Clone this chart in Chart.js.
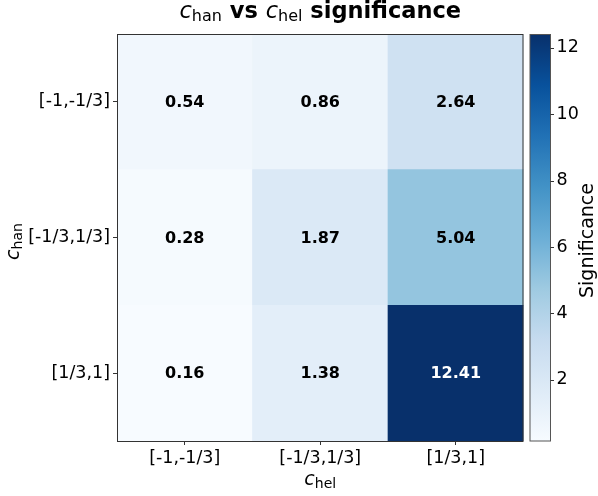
<!DOCTYPE html>
<html>
<head>
<meta charset="utf-8">
<script src="https://cdn.jsdelivr.net/npm/chart.js@4/dist/chart.umd.min.js"></script>
<style>
  html, body { margin: 0; padding: 0; background: #ffffff; }
  #wrap { width: 598px; height: 496px; }
</style>
</head>
<body>
<div id="wrap"><canvas id="heatmap"></canvas></div>
<script>
// c_hel bins along x; c_han bins along y, listed from the top row down
const helBins = ['[-1,-1/3]', '[-1/3,1/3]', '[1/3,1]'];
const hanBins = ['[-1,-1/3]', '[-1/3,1/3]', '[1/3,1]'];

// significance for each c_han row, one value per c_hel bin
const sigHanNeg = [0.54, 0.86, 2.64];
const sigHanMid = [0.28, 1.87, 5.04];
const sigHanPos = [0.16, 1.38, 12.41];

const colorbarTicks = [2, 4, 6, 8, 10, 12];

const FONT = '"DejaVu Sans", "Liberation Sans", sans-serif';

// rows from top to bottom
const rows = [sigHanNeg, sigHanMid, sigHanPos];
const allValues = rows.flat();
const vmin = Math.min(...allValues);
const vmax = Math.max(...allValues);

// "Blues" sequential palette
const BLUES = ['#f7fbff', '#deebf7', '#c6dbef', '#9ecae1', '#6baed6',
               '#4292c6', '#2171b5', '#08519c', '#08306b'];

function hexToRgb(h) {
  return [parseInt(h.slice(1, 3), 16), parseInt(h.slice(3, 5), 16), parseInt(h.slice(5, 7), 16)];
}
function blues(v) {
  let t = (v - vmin) / (vmax - vmin);
  t = Math.max(0, Math.min(1, t));
  const pos = t * (BLUES.length - 1);
  const i = Math.min(Math.floor(pos), BLUES.length - 2);
  const f = pos - i;
  const a = hexToRgb(BLUES[i]), b = hexToRgb(BLUES[i + 1]);
  const c = a.map((x, k) => Math.round(x + (b[k] - x) * f));
  return `rgb(${c[0]},${c[1]},${c[2]})`;
}

// one stacked dataset per c_han row, bottom row first
const datasets = rows.slice().reverse().map((sig, i) => ({
  label: hanBins[rows.length - 1 - i],
  sig: sig,
  data: helBins.map(() => 1),
  backgroundColor: sig.map(blues),
  borderWidth: 0,
  barPercentage: 1,
  categoryPercentage: 1
}));

// draws a sequence of text runs (mixed fonts / subscripts) centred on x
function drawRuns(ctx, runs, x, y) {
  let total = 0;
  runs.forEach(r => { ctx.font = r.font; r.w = ctx.measureText(r.text).width; total += r.w; });
  let cx = x - total / 2;
  ctx.textAlign = 'left';
  ctx.textBaseline = 'alphabetic';
  runs.forEach(r => {
    ctx.font = r.font;
    ctx.fillText(r.text, cx, y + (r.dy || 0));
    cx += r.w;
  });
}

const mathC = `italic 22.5px ${FONT}`;
const subF = `16px ${FONT}`;

const cellLabels = {
  id: 'cellLabels',
  afterDatasetsDraw(chart) {
    const ctx = chart.ctx;
    ctx.save();
    ctx.font = `bold 16px ${FONT}`;
    ctx.textAlign = 'center';
    ctx.textBaseline = 'middle';
    chart.data.datasets.forEach((ds, di) => {
      chart.getDatasetMeta(di).data.forEach((bar, j) => {
        const v = ds.sig[j];
        ctx.fillStyle = v > (vmin + vmax) / 2 ? '#ffffff' : '#000000';
        ctx.fillText(v.toFixed(2), bar.x, (bar.y + bar.base) / 2 + 1);
      });
    });
    ctx.restore();
  }
};

const frameAndColorbar = {
  id: 'frameAndColorbar',
  afterDraw(chart) {
    const ctx = chart.ctx;
    const a = chart.chartArea;
    ctx.save();

    // axes frame
    ctx.strokeStyle = '#333333';
    ctx.lineWidth = 1;
    ctx.strokeRect(a.left + 0.5, a.top + 0.5, a.right - a.left - 1, a.bottom - a.top);

    // colour bar
    const cb = chart.scales.cb;
    const x0 = a.right + 6.5, w = 20.5;
    const yLo = cb.getPixelForValue(vmin), yHi = cb.getPixelForValue(vmax);
    const g = ctx.createLinearGradient(0, yLo, 0, yHi);
    BLUES.forEach((c, i) => g.addColorStop(i / (BLUES.length - 1), c));
    ctx.fillStyle = g;
    ctx.fillRect(x0, yHi, w, yLo - yHi);
    ctx.strokeStyle = '#555555';
    ctx.strokeRect(x0, yHi + 0.5, w, yLo - yHi - 0.5);
    ctx.strokeStyle = '#333333';
    cb.ticks.forEach(t => {
      const y = Math.round(cb.getPixelForValue(t.value)) + 0.5;
      ctx.beginPath();
      ctx.moveTo(x0 + w, y);
      ctx.lineTo(x0 + w + 3.5, y);
      ctx.stroke();
    });

    ctx.fillStyle = '#000000';
    const midX = (a.left + a.right) / 2;
    const midY = (a.top + a.bottom) / 2;

    // title
    drawRuns(ctx, [
      { text: 'c', font: mathC },
      { text: 'han', font: subF, dy: 3 },
      { text: ' vs ', font: `bold 22.5px ${FONT}` },
      { text: 'c', font: mathC },
      { text: 'hel', font: subF, dy: 3 },
      { text: ' significance', font: `bold 22.5px ${FONT}` }
    ], midX, 18);

    // x-axis title
    drawRuns(ctx, [
      { text: 'c', font: `italic 19px ${FONT}` },
      { text: 'hel', font: `14px ${FONT}`, dy: 3 }
    ], midX, 485);

    // y-axis title
    ctx.save();
    ctx.translate(19, midY + 4);
    ctx.rotate(-Math.PI / 2);
    drawRuns(ctx, [
      { text: 'c', font: `italic 19px ${FONT}` },
      { text: 'han', font: `14px ${FONT}`, dy: 3 }
    ], 0, 0);
    ctx.restore();

    // colour bar label
    ctx.save();
    ctx.translate(593, midY + 3);
    ctx.rotate(-Math.PI / 2);
    drawRuns(ctx, [{ text: 'Significance', font: `19px ${FONT}` }], 0, 0);
    ctx.restore();

    ctx.restore();
  }
};

// vertical scales: fixed width, no extra end padding for tick labels
function fixVertical(width) {
  return s => { s.width = width; s.paddingTop = 0; s.paddingBottom = 0; };
}

new Chart(document.getElementById('heatmap'), {
  type: 'bar',
  data: { labels: helBins, datasets: datasets },
  options: {
    responsive: true,
    maintainAspectRatio: false,
    animation: false,
    events: [],
    layout: { padding: { top: 34, left: 0, right: 0, bottom: 0 } },
    plugins: { legend: { display: false }, tooltip: { enabled: false } },
    scales: {
      x: {
        stacked: true,
        offset: true,
        grid: { display: true, drawOnChartArea: false, offset: false, tickLength: 4, tickColor: '#333333' },
        border: { display: false },
        ticks: { color: '#000000', padding: 3, font: { family: FONT, size: 17.5 }, maxRotation: 0 },
        afterFit(s) { s.height = 55; s.paddingLeft = 0; s.paddingRight = 0; }
      },
      y: {
        stacked: true,
        min: 0,
        max: rows.length,
        grid: { display: true, drawOnChartArea: false, tickLength: 4, tickColor: '#333333' },
        border: { display: false },
        afterBuildTicks(s) { s.ticks = hanBins.map((_, i) => ({ value: i + 0.5 })); },
        ticks: {
          color: '#000000',
          padding: 3,
          font: { family: FONT, size: 17.5 },
          callback: v => hanBins[rows.length - 1 - Math.floor(v)]
        },
        afterFit: fixVertical(117)
      },
      cb: {
        type: 'linear',
        position: 'right',
        min: vmin,
        max: vmax,
        grid: { display: false, drawTicks: false },
        border: { display: false },
        afterBuildTicks(s) { s.ticks = colorbarTicks.map(v => ({ value: v })); },
        ticks: { color: '#000000', padding: 33, font: { family: FONT, size: 17.5 } },
        afterFit: fixVertical(74.5)
      }
    }
  },
  plugins: [cellLabels, frameAndColorbar]
});
</script>
</body>
</html>
